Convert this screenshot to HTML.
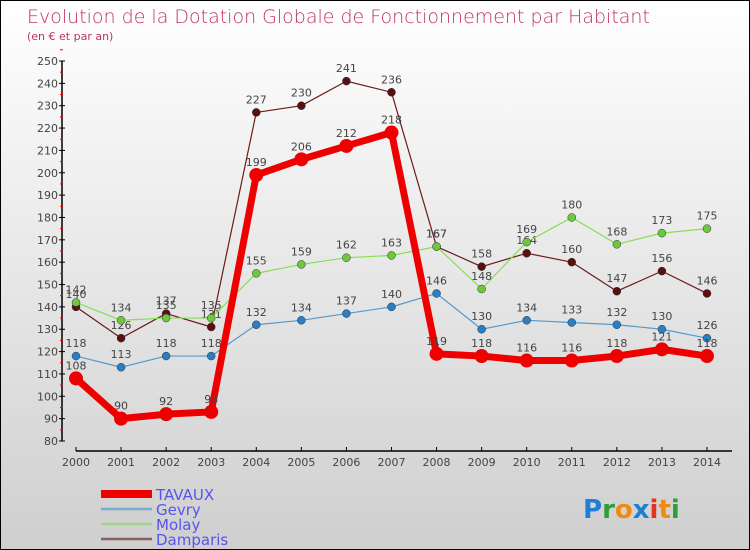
<!DOCTYPE html>
<html><head><meta charset="utf-8"><style>
body{margin:0}
#wrap{position:relative;width:748px;height:548px;border:1px solid #000;background:linear-gradient(#ffffff,#cfcfcf);font-family:"DejaVu Sans","Liberation Sans",sans-serif;overflow:hidden}
</style></head><body>
<div id="wrap">
<svg id="chart" width="748" height="548" style="position:absolute;left:0;top:0">
<text x="26" y="22" font-size="19" fill="#c0306a" font-family="DejaVu Sans, sans-serif" font-weight="200">Evolution de la Dotation Globale de Fonctionnement par Habitant</text>
<text x="26" y="39" font-size="11" fill="#c0306a">(en € et par an)</text>
<g id="axes"></g><g id="series"></g><g id="legend"></g>
<g font-size="26" font-family="DejaVu Sans, sans-serif" font-weight="bold">
<text x="582" y="517"><tspan fill="#1e7fd4">P</tspan><tspan fill="#2e9e3a">r</tspan><tspan fill="#f08a10">o</tspan><tspan fill="#1e7fd4">x</tspan><tspan fill="#e83020">i</tspan><tspan fill="#f08a10">t</tspan><tspan fill="#2e9e3a">i</tspan></text>
</g>
</svg>
</div>
<script>
const years=["2000","2001","2002","2003","2004","2005","2006","2007","2008","2009","2010","2011","2012","2013","2014"];
const tavaux=[108,90,92,93,199,206,212,218,119,118,116,116,118,121,118];
const gevry=[118,113,118,118,132,134,137,140,146,130,134,133,132,130,126];
const molay=[142,134,135,135,155,159,162,163,167,148,169,180,168,173,175];
const damparis=[140,126,137,131,227,230,241,236,167,158,164,160,147,156,146];
const yTicks=[80,90,100,110,120,130,140,150,160,170,180,190,200,210,220,230,240,250];
const NS="http://www.w3.org/2000/svg";
const xS=i=>75+i*45.07;
const yS=v=>440-(v-80)*(380/170);
function mk(t,a,p){const e=document.createElementNS(NS,t);for(const k in a)e.setAttribute(k,a[k]);p.appendChild(e);return e;}
const ax=document.getElementById('axes');
let l=mk('line',{x1:61,y1:60,x2:61,y2:440,stroke:'#000','stroke-width':1.5},ax);

yTicks.forEach(v=>{const y=yS(v);
 mk('line',{x1:58,y1:y,x2:64,y2:y,stroke:'#000'},ax);
 mk('line',{x1:59,y1:y-11.2,x2:62,y2:y-11.2,stroke:'#e00'},ax);
 const t=mk('text',{x:57,y:y+4,'text-anchor':'end','font-size':11,fill:'#444'},ax);t.textContent=v;
 });
l=mk('line',{x1:75,y1:450,x2:731,y2:450,stroke:'#000','stroke-width':1.5},ax);

years.forEach((yr,i)=>{const x=xS(i);mk('line',{x1:x,y1:446,x2:x,y2:450,stroke:'#000'},ax);
 const t=mk('text',{x:x,y:465,'text-anchor':'middle','font-size':11,fill:'#444'},ax);t.textContent=yr;
 });
const sg=document.getElementById('series');
const series=[["damparis",damparis,'#6b1a1a','#5a1010',1.2,4],["molay",molay,'#88dd55','#6cc83c',1.2,4],["gevry",gevry,'#5599cc','#2a7fc4',1.2,4],["tavaux",tavaux,'#ee0000','#ee0000',7,7]];
series.forEach(([n,d,c,fc,w,r])=>{
 const g=mk('g',{},sg);
 mk('polyline',{points:d.map((v,i)=>xS(i)+','+yS(v)).join(' '),fill:'none',stroke:c,'stroke-width':w,'stroke-linejoin':'round'},g);
 d.forEach((v,i)=>{const p=mk('circle',{cx:xS(i),cy:yS(v),r:r,fill:fc,stroke:w>2?'none':'#333','stroke-width':0.5},g);
  
  const t=mk('text',{x:xS(i),y:yS(v)-9,'text-anchor':'middle','font-size':11,fill:'#444'},g);t.textContent=v;
  });
});
const lg=document.getElementById('legend');
[["TAVAUX",'#ee0000',8],["Gevry",'#7aaed0',2.5],["Molay",'#99d988',2.5],["Damparis",'#8a6060',2.5]].forEach(([n,c,w],i)=>{
 const y=493+i*15;const g=mk('g',{},lg);
 mk('line',{x1:100,y1:y,x2:151,y2:y,stroke:c,'stroke-width':w},g);
 const t=mk('text',{x:155,y:y+6,'font-size':15,fill:'#5555ee'},g);t.textContent=n;});
</script>
</body></html>
